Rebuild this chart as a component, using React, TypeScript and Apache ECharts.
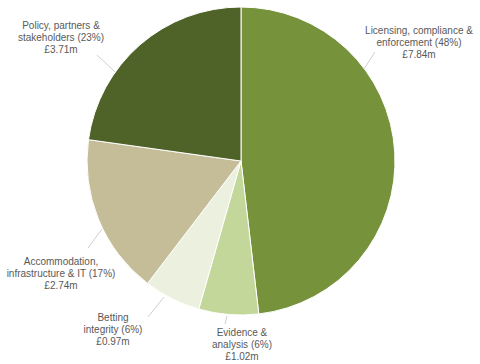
import React, { useEffect, useRef } from "react";
import * as echarts from "echarts";

const names = [
  "Licensing, compliance &\nenforcement",
  "Evidence &\nanalysis",
  "Betting\nintegrity",
  "Accommodation,\ninfrastructure & IT",
  "Policy, partners &\nstakeholders",
];
const values = [7.84, 1.02, 0.97, 2.74, 3.71];
const colors = ["#76933c", "#c4d79b", "#ebf1de", "#c4bd97", "#4f6228"];

// label anchor (text block centre) and leader line points
const labelPos = [
  { x: 419, y: 42, line: [375, 52, 364, 69] },
  { x: 242, y: 344, line: [225, 324, 227, 316] },
  { x: 113, y: 329, line: [148, 317, 164, 297] },
  { x: 61, y: 273, line: [88, 248, 102, 229] },
  { x: 61, y: 37, line: [97, 55, 115, 72] },
];

export default function App() {
  const ref = useRef<HTMLDivElement>(null);
  useEffect(() => {
    if (!ref.current) return;
    const chart = echarts.init(ref.current, null, { renderer: "svg" });
    const total = values.reduce((a, b) => a + b, 0);
    chart.setOption({
      animation: false,
      backgroundColor: "#fff",
      graphic: labelPos.map((lp) => ({
        type: "line",
        silent: true,
        shape: { x1: lp.line[0], y1: lp.line[1], x2: lp.line[2], y2: lp.line[3] },
        style: { stroke: "#d0d0d0", lineWidth: 1 },
      })),
      series: [
        {
          type: "pie",
          center: [241, 161],
          radius: 154,
          startAngle: 90,
          clockwise: true,
          itemStyle: { borderColor: "#fff", borderWidth: 1 },
          data: names.map((n, i) => ({
            name: n,
            value: values[i],
            itemStyle: { color: colors[i] },
          })),
          label: {
            show: true,
            position: "outside",
            color: "#595959",
            fontFamily: "Liberation Sans, Arial, sans-serif",
            fontSize: 10,
            lineHeight: 12,
            align: "center",
            overflow: "none",
            formatter: (p: any) =>
              `${p.name} (${Math.round((p.value / total) * 100)}%)\n£${p.value.toFixed(2)}m`,
          },
          labelLine: { show: false },
          labelLayout: (params: any) => {
            const lp = labelPos[params.dataIndex];
            return {
              x: lp.x,
              y: lp.y,
              align: "center",
              verticalAlign: "middle",
            };
          },
        },
      ],
    });
    return () => chart.dispose();
  }, []);
  return (
    <div
      ref={ref}
      style={{ position: "fixed", left: 0, top: 0, width: 480, height: 364 }}
    />
  );
}
